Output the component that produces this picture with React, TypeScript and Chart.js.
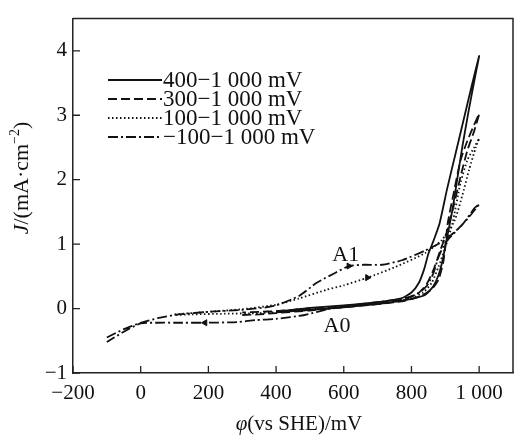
import { useEffect, useRef } from 'react';
import { Chart, registerables } from 'chart.js';

Chart.register(...registerables);

// ---- data ----
// 400–1000 mV loop (solid)
const s400X = [400, 450, 500, 600, 700, 760, 800, 840, 865, 880, 892, 905, 920, 935, 950, 970, 990, 1000, 980, 955, 930, 905, 883, 865, 850, 838, 822, 800, 770, 700, 600, 500, 450, 400];
const s400Y = [-0.06, -0.04, -0.02, 0.02, 0.07, 0.11, 0.15, 0.21, 0.35, 0.52, 0.75, 1.1, 1.5, 2.0, 2.5, 3.1, 3.65, 3.92, 3.5, 2.95, 2.4, 1.85, 1.32, 1.05, 0.85, 0.62, 0.4, 0.25, 0.16, 0.1, 0.05, 0.01, -0.02, -0.04];
// 300–1000 mV loop (dashed)
const s300X = [300, 350, 400, 500, 600, 700, 780, 830, 860, 880, 895, 907, 925, 945, 965, 985, 1000, 985, 965, 945, 925, 905, 885, 865, 845, 820, 780, 700, 600, 500, 400, 350, 300];
const s300Y = [-0.1, -0.09, -0.07, -0.03, 0.02, 0.07, 0.12, 0.2, 0.3, 0.45, 0.75, 1.32, 1.8, 2.3, 2.6, 2.85, 3.02, 2.75, 2.45, 2.05, 1.6, 1.2, 0.9, 0.6, 0.38, 0.24, 0.15, 0.09, 0.04, 0.0, -0.04, -0.05, -0.06];
// 100–1000 mV loop (dotted)
const s100X = [100, 200, 300, 400, 470, 548, 600, 670, 750, 840, 889, 927, 950, 970, 990, 1000, 985, 965, 945, 921, 900, 880, 860, 835, 800, 740, 650, 550, 450, 350, 250, 150, 100];
const s100Y = [-0.09, -0.05, -0.01, 0.06, 0.16, 0.29, 0.36, 0.48, 0.64, 0.86, 1.06, 1.36, 1.75, 2.15, 2.5, 2.64, 2.5, 2.3, 1.95, 1.32, 0.95, 0.65, 0.4, 0.25, 0.16, 0.1, 0.05, 0.0, -0.04, -0.07, -0.08, -0.09, -0.1];
// −100–1000 mV loop (dash-dot)
const sm100X = [-100, -50, 0, 50, 100, 200, 300, 394, 469, 520, 577, 615, 660, 714, 772, 840, 898, 950, 985, 1000, 970, 935, 900, 880, 865, 845, 815, 770, 700, 630, 560, 484, 400, 338, 286, 190, 100, 50, 0, -50, -100];
const sm100Y = [-0.45, -0.32, -0.22, -0.15, -0.1, -0.05, -0.02, 0.04, 0.2, 0.4, 0.56, 0.66, 0.68, 0.68, 0.75, 0.9, 1.06, 1.3, 1.55, 1.62, 1.42, 1.22, 1.02, 0.8, 0.55, 0.35, 0.22, 0.15, 0.1, 0.05, 0.0, -0.1, -0.16, -0.18, -0.21, -0.22, -0.22, -0.22, -0.23, -0.36, -0.52];
// scan-direction arrows
const arrowX = [670, 615, 190];
const arrowY = [0.48, 0.66, -0.22];
const arrowDir = [90, 90, 270];

const legendLabels = ['400\u22121 000 mV', '300\u22121 000 mV', '100\u22121 000 mV', '\u2212100\u22121 000 mV'];
const dashes = [[], [9, 4], [1.5, 2.5], [10, 3, 2, 3]];
const annotations = [
  { text: 'A1', x: 606, y: 0.83 },
  { text: 'A0', x: 580, y: -0.27 },
];

const SERIF = "'Liberation Serif', 'Times New Roman', serif";
const INK = '#111';

function pts(xs: number[], ys: number[]) {
  return xs.map((x, i) => ({ x, y: ys[i] }));
}

function fmtTick(v: number) {
  const a = Math.abs(v);
  const s = a >= 1000 ? `${Math.floor(a / 1000)} ${String(a % 1000).padStart(3, '0')}` : String(a);
  return v < 0 ? '\u2212' + s : s;
}

type Seg = { t: string; italic?: boolean; sup?: boolean };

function drawSegs(ctx: CanvasRenderingContext2D, segs: Seg[], size: number, cx: number, cy: number) {
  const fontOf = (s: Seg) => `${s.italic ? 'italic ' : ''}${s.sup ? Math.round(size * 0.65) : size}px ${SERIF}`;
  let total = 0;
  for (const s of segs) {
    ctx.font = fontOf(s);
    total += ctx.measureText(s.t).width;
  }
  let x = cx - total / 2;
  ctx.textBaseline = 'alphabetic';
  ctx.textAlign = 'left';
  for (const s of segs) {
    ctx.font = fontOf(s);
    ctx.fillText(s.t, x, cy + size * 0.35 - (s.sup ? size * 0.4 : 0));
    x += ctx.measureText(s.t).width;
  }
}

const decorPlugin = {
  id: 'decor',
  afterDraw(chart: any) {
    const { ctx, chartArea: a, scales } = chart;
    const xs = scales.x;
    const ys = scales.y;
    ctx.save();
    // frame (top & right)
    ctx.strokeStyle = '#222';
    ctx.lineWidth = 1.5;
    ctx.beginPath();
    ctx.moveTo(a.left, a.top);
    ctx.lineTo(a.right, a.top);
    ctx.lineTo(a.right, a.bottom);
    ctx.stroke();
    // inward ticks
    ctx.lineWidth = 1.3;
    ctx.beginPath();
    for (const t of xs.ticks) {
      const px = xs.getPixelForValue(t.value);
      ctx.moveTo(px, a.bottom);
      ctx.lineTo(px, a.bottom - 7);
    }
    for (const t of ys.ticks) {
      const py = ys.getPixelForValue(t.value);
      ctx.moveTo(a.left, py);
      ctx.lineTo(a.left + 7, py);
    }
    ctx.stroke();

    // legend
    ctx.fillStyle = INK;
    ctx.strokeStyle = INK;
    ctx.font = `23px ${SERIF}`;
    ctx.textBaseline = 'middle';
    ctx.textAlign = 'left';
    legendLabels.forEach((lab, i) => {
      const y = 80 + i * 19;
      ctx.setLineDash(dashes[i]);
      ctx.lineWidth = 1.9;
      ctx.beginPath();
      ctx.moveTo(108, y);
      ctx.lineTo(162, y);
      ctx.stroke();
      ctx.setLineDash([]);
      ctx.fillText(lab, 163, y + 1);
    });

    // annotations
    ctx.font = `22px ${SERIF}`;
    ctx.textAlign = 'center';
    ctx.textBaseline = 'middle';
    for (const an of annotations) {
      ctx.fillText(an.text, xs.getPixelForValue(an.x), ys.getPixelForValue(an.y));
    }

    // axis titles
    drawSegs(ctx, [{ t: '\u03C6', italic: true }, { t: '(vs SHE)/mV' }], 21, 299, 423);
    ctx.save();
    ctx.translate(20, 178);
    ctx.rotate(-Math.PI / 2);
    drawSegs(ctx, [{ t: 'J', italic: true }, { t: '/(mA\u00B7cm' }, { t: '\u22122', sup: true }, { t: ')' }], 22, 0, 0);
    ctx.restore();
    ctx.restore();
  },
};

export default function App() {
  const ref = useRef<HTMLCanvasElement | null>(null);
  useEffect(() => {
    if (!ref.current) return;
    const mk = (xs: number[], ys: number[], dash: number[]) => ({
      data: pts(xs, ys),
      showLine: true,
      borderColor: INK,
      backgroundColor: INK,
      borderWidth: 1.8,
      borderDash: dash,
      pointRadius: 0,
      tension: 0.2,
      fill: false,
    });
    const chart = new Chart(ref.current, {
      type: 'scatter',
      data: {
        datasets: [
          mk(s400X, s400Y, dashes[0]),
          mk(s300X, s300Y, dashes[1]),
          mk(s100X, s100Y, dashes[2]),
          mk(sm100X, sm100Y, dashes[3]),
          {
            data: pts(arrowX, arrowY),
            showLine: false,
            pointStyle: 'triangle',
            pointRadius: 3.5,
            rotation: arrowDir,
            backgroundColor: INK,
            borderColor: INK,
            borderWidth: 1,
          } as any,
        ],
      },
      options: {
        animation: false,
        responsive: true,
        maintainAspectRatio: false,
        layout: { padding: { top: 8, right: 1, left: 0, bottom: 0 } },
        plugins: { legend: { display: false }, tooltip: { enabled: false } },
        scales: {
          x: {
            type: 'linear',
            min: -200,
            max: 1100,
            grid: { display: false, drawTicks: false },
            border: { display: true, color: '#222', width: 1.5 },
            ticks: {
              stepSize: 200,
              includeBounds: false,
              autoSkip: false,
              maxRotation: 0,
              padding: 8,
              color: INK,
              font: { family: SERIF, size: 21 },
              callback: (v: any) => fmtTick(Number(v)),
            },
            afterFit: (s: any) => {
              s.height = 64;
            },
          },
          y: {
            type: 'linear',
            min: -1,
            max: 4.5,
            grid: { display: false, drawTicks: false },
            border: { display: true, color: '#222', width: 1.5 },
            ticks: {
              stepSize: 1,
              includeBounds: false,
              padding: 6,
              color: INK,
              font: { family: SERIF, size: 21 },
              callback: (v: any) => fmtTick(Number(v)),
            },
            afterFit: (s: any) => {
              s.width = 73;
            },
          },
        },
      } as any,
      plugins: [decorPlugin],
    });
    return () => chart.destroy();
  }, []);
  return (
    <div style={{ position: 'absolute', left: 0, top: 0, width: 518, height: 437, background: '#fff' }}>
      <canvas ref={ref} />
    </div>
  );
}
